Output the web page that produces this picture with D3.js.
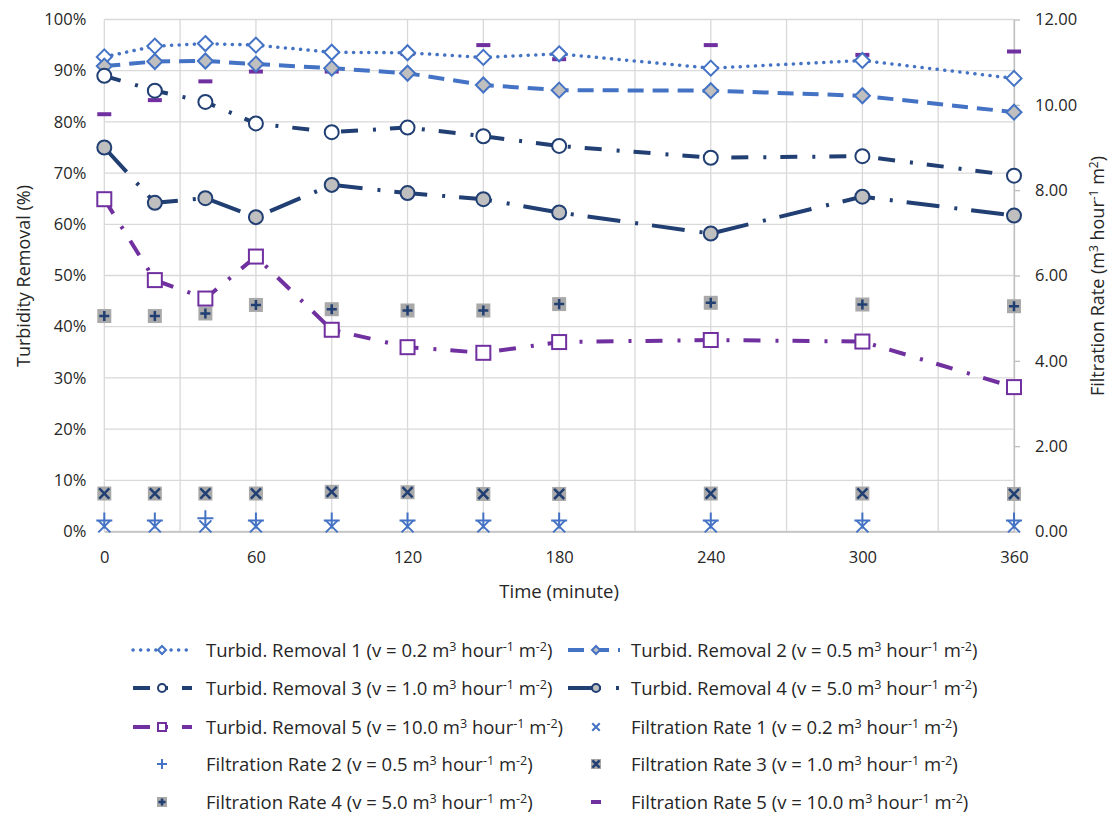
<!DOCTYPE html>
<html>
<head>
<meta charset="utf-8">
<script src="https://cdn.jsdelivr.net/npm/d3@7"></script>
<style>
  body { margin: 0; background: #fff; }
  text { font-family: "Open Sans", sans-serif; fill: #262626; }
</style>
</head>
<body>
<svg id="chart" width="1111" height="817"></svg>
<script>
// **** data ****
var times = [0, 20, 40, 60, 90, 120, 150, 180, 240, 300, 360];

var removal1 = [92.7, 94.8, 95.3, 95.0, 93.6, 93.5, 92.6, 93.3, 90.5, 92.0, 88.5];
var removal2 = [90.9, 91.8, 91.9, 91.3, 90.5, 89.5, 87.2, 86.2, 86.1, 85.1, 81.9];
var removal3 = [89.0, 86.1, 83.9, 79.7, 78.0, 78.9, 77.2, 75.3, 73.0, 73.3, 69.5];
var removal4 = [75.0, 64.2, 65.1, 61.4, 67.7, 66.1, 64.9, 62.3, 58.2, 65.4, 61.7];
var removal5 = [64.9, 49.1, 45.5, 53.7, 39.4, 36.0, 34.9, 37.0, 37.4, 37.1, 28.2];

var rate1 = [0.12, 0.12, 0.12, 0.12, 0.12, 0.12, 0.12, 0.12, 0.12, 0.12, 0.12];
var rate2 = [0.26, 0.26, 0.31, 0.26, 0.26, 0.26, 0.26, 0.26, 0.26, 0.26, 0.26];
var rate3 = [0.89, 0.89, 0.89, 0.89, 0.93, 0.92, 0.88, 0.88, 0.89, 0.89, 0.88];
var rate4 = [5.05, 5.05, 5.11, 5.31, 5.21, 5.18, 5.18, 5.33, 5.36, 5.32, 5.28];
var rate5 = [9.78, 10.11, 10.55, 10.78, 10.78, 11.19, 11.40, 11.07, 11.40, 11.17, 11.25];

var leftTicks = [0, 10, 20, 30, 40, 50, 60, 70, 80, 90, 100];
var rightTicks = [0, 2, 4, 6, 8, 10, 12];
var timeTicks = [0, 60, 120, 180, 240, 300, 360];
var gridTimes = [0, 30, 60, 90, 120, 150, 180, 210, 240, 270, 300, 330, 360];

var BLUE = '#4472c4', NAVY = '#213f73', PURPLE = '#7030a0', GRAY = '#bfbfbf', BOXGRAY = '#a9a9a9';

function unitLabel(prefix) {
    return [[prefix + ' m'], ['3', 1], [' hour'], ['-1', 1], [' m'], ['-2', 1], [')']];
}

// series table built from the arrays above
var lineSeries = [
    { values: removal1, color: BLUE, dash: '0.1 7.5', cap: 'round', width: 3.5, marker: 'diamond', fill: '#fff',
      label: unitLabel('Turbid. Removal 1 (v = 0.2') },
    { values: removal2, color: BLUE, dash: '16 9', cap: 'butt', width: 4, marker: 'diamond', fill: GRAY,
      label: unitLabel('Turbid. Removal 2 (v = 0.5') },
    { values: removal3, color: NAVY, dash: '17 15 3 14', cap: 'butt', width: 4, marker: 'circle', fill: '#fff',
      label: unitLabel('Turbid. Removal 3 (v = 1.0') },
    { values: removal4, color: NAVY, dash: '33 15 3 14', cap: 'butt', width: 4, marker: 'circle', fill: GRAY,
      label: unitLabel('Turbid. Removal 4 (v = 5.0') },
    { values: removal5, color: PURPLE, dash: '17 15 3 14', cap: 'butt', width: 4, marker: 'square', fill: '#fff',
      label: unitLabel('Turbid. Removal 5 (v = 10.0') }
];

var pointSeries = [
    { values: rate1, marker: 'cross', label: unitLabel('Filtration Rate 1 (v = 0.2') },
    { values: rate2, marker: 'plus', label: unitLabel('Filtration Rate 2 (v = 0.5') },
    { values: rate3, marker: 'boxcross', label: unitLabel('Filtration Rate 3 (v = 1.0') },
    { values: rate4, marker: 'boxplus', label: unitLabel('Filtration Rate 4 (v = 5.0') },
    { values: rate5, marker: 'bar', label: unitLabel('Filtration Rate 5 (v = 10.0') }
];

// **** scales ****
var xScale = d3.scaleLinear().domain([0, 360]).range([104.3, 1014]);
var yLeft = d3.scaleLinear().domain([0, 100]).range([531.5, 19.5]);
var yRight = d3.scaleLinear().domain([0, 12]).range([531.5, 19.5]);

var svg = d3.select('#chart');

// text with superscripts; parts flagged 1 are raised
function richText(sel, parts, supSize) {
    var shift = 0;
    parts.forEach(function (p) {
        var want = p[1] ? -6 : 0;
        var ts = sel.append('tspan').attr('dy', want - shift).text(p[0]);
        if (p[1]) ts.style('font-size', supSize);
        shift = want;
    });
}

// gridlines
svg.append('g').selectAll('line').data(leftTicks).enter().append('line')
    .attr('x1', xScale(0)).attr('x2', xScale(360))
    .attr('y1', function (d) { return yLeft(d); }).attr('y2', function (d) { return yLeft(d); })
    .style('stroke', '#d9d9d9').style('stroke-width', 1.3);
svg.append('g').selectAll('line').data(gridTimes).enter().append('line')
    .attr('x1', function (d) { return xScale(d); }).attr('x2', function (d) { return xScale(d); })
    .attr('y1', yLeft(0)).attr('y2', yLeft(100))
    .style('stroke', '#d9d9d9').style('stroke-width', 1.3);

// axes
var leftAxis = svg.append('g').attr('transform', 'translate(' + xScale(0) + ',0)')
    .call(d3.axisLeft(yLeft).tickValues(leftTicks).tickFormat(function (d) { return d + '%'; })
        .tickSize(0).tickPadding(18));
leftAxis.select('.domain').remove();

var rightAxis = svg.append('g').attr('transform', 'translate(' + xScale(360) + ',0)')
    .call(d3.axisRight(yRight).tickValues(rightTicks).tickFormat(d3.format('.2f'))
        .tickSizeInner(6).tickSizeOuter(0).tickPadding(15));
rightAxis.select('.domain').style('stroke', '#bfbfbf').style('stroke-width', 1.3);
rightAxis.selectAll('.tick line').style('stroke', '#bfbfbf').style('stroke-width', 1.3);

var bottomAxis = svg.append('g').attr('transform', 'translate(0,' + yLeft(0) + ')')
    .call(d3.axisBottom(xScale).tickValues(timeTicks).tickSize(0).tickPadding(20));
bottomAxis.select('.domain').style('stroke', '#bfbfbf').style('stroke-width', 1.3);

svg.selectAll('.tick text').style('font-family', '"Open Sans", sans-serif')
    .style('font-size', '16.5px').style('fill', '#262626');

// axis titles
svg.append('text').attr('transform', 'translate(30,276) rotate(-90)')
    .attr('text-anchor', 'middle').style('font-size', '18px').text('Turbidity Removal (%)');

var rt = svg.append('text').attr('transform', 'translate(1104,276) rotate(-90)')
    .attr('text-anchor', 'middle').style('font-size', '18px');
richText(rt, [['Filtration Rate (m'], ['3', 1], [' hour'], ['-1', 1], [' m'], ['2', 1], [')']], '12px');

svg.append('text').attr('x', (xScale(0) + xScale(360)) / 2).attr('y', 598)
    .attr('text-anchor', 'middle').style('font-size', '18.5px').text('Time (minute)');

// **** markers ****
function drawMarker(g, type, s, color, fill) {
    if (type === 'diamond') {
        g.append('path').attr('d', 'M0,' + (-s) + 'L' + s + ',0L0,' + s + 'L' + (-s) + ',0Z')
            .style('fill', fill).style('stroke', color).style('stroke-width', 2);
    } else if (type === 'circle') {
        g.append('circle').attr('r', s).style('fill', fill).style('stroke', color).style('stroke-width', 2);
    } else if (type === 'square') {
        g.append('rect').attr('x', -s).attr('y', -s).attr('width', 2 * s).attr('height', 2 * s)
            .style('fill', fill).style('stroke', color).style('stroke-width', 2);
    } else if (type === 'cross' || type === 'plus') {
        var c = type === 'cross' ? s * 0.75 : s;
        var p = type === 'cross'
            ? 'M' + (-c) + ',' + (-c) + 'L' + c + ',' + c + 'M' + (-c) + ',' + c + 'L' + c + ',' + (-c)
            : 'M' + (-c) + ',0L' + c + ',0M0,' + (-c) + 'L0,' + c;
        g.append('path').attr('d', p).style('stroke', BLUE).style('stroke-width', 2).style('fill', 'none');
    } else if (type === 'boxcross' || type === 'boxplus') {
        g.append('rect').attr('x', -s).attr('y', -s).attr('width', 2 * s).attr('height', 2 * s).style('fill', BOXGRAY);
        var k = s * 0.72;
        var q = type === 'boxcross'
            ? 'M' + (-k) + ',' + (-k) + 'L' + k + ',' + k + 'M' + (-k) + ',' + k + 'L' + k + ',' + (-k)
            : 'M' + (-k) + ',0L' + k + ',0M0,' + (-k) + 'L0,' + k;
        g.append('path').attr('d', q).style('stroke', NAVY).style('stroke-width', 2.5).style('fill', 'none');
    } else if (type === 'bar') {
        g.append('rect').attr('x', -s).attr('y', -2).attr('width', 2 * s).attr('height', 4).style('fill', PURPLE);
    }
}

// **** lines ****
lineSeries.forEach(function (sr) {
    var line = d3.line()
        .x(function (d, i) { return xScale(times[i]); })
        .y(function (d) { return yLeft(d); });
    svg.append('path').datum(sr.values).attr('d', line)
        .style('fill', 'none').style('stroke', sr.color).style('stroke-width', sr.width)
        .style('stroke-dasharray', sr.dash).style('stroke-linecap', sr.cap);
});

// filtration rate points
pointSeries.forEach(function (sr) {
    sr.values.forEach(function (v, i) {
        var g = svg.append('g').attr('transform', 'translate(' + xScale(times[i]) + ',' + yRight(v) + ')');
        var sz = sr.marker === 'bar' ? 7 : (sr.marker === 'cross' || sr.marker === 'plus') ? 8 : 7;
        drawMarker(g, sr.marker, sz);
    });
});

lineSeries.forEach(function (sr) {
    sr.values.forEach(function (v, i) {
        var g = svg.append('g').attr('transform', 'translate(' + xScale(times[i]) + ',' + yLeft(v) + ')');
        drawMarker(g, sr.marker, sr.marker === 'diamond' ? 7.5 : 7, sr.color, sr.fill);
    });
});

// **** legend ****
var legendRows = [650, 688, 727, 764, 802];
var cols = [
    { x1: 133, x2: 192, mx: 162, tx: 206, items: [['l', 0], ['l', 2], ['l', 4], ['p', 1], ['p', 3]] },
    { x1: 568, x2: 620, mx: 596, tx: 631, items: [['l', 1], ['l', 3], ['p', 0], ['p', 2], ['p', 4]] }
];

cols.forEach(function (col) {
    col.items.forEach(function (it, r) {
        var y = legendRows[r];
        var sr = it[0] === 'l' ? lineSeries[it[1]] : pointSeries[it[1]];
        if (it[0] === 'l') {
            svg.append('line').attr('x1', col.x1).attr('x2', col.x2).attr('y1', y).attr('y2', y)
                .style('stroke', sr.color).style('stroke-width', sr.width)
                .style('stroke-dasharray', sr.dash).style('stroke-linecap', sr.cap);
            var g = svg.append('g').attr('transform', 'translate(' + col.mx + ',' + y + ')');
            drawMarker(g, sr.marker, 4, sr.color, sr.fill);
        } else {
            var g2 = svg.append('g').attr('transform', 'translate(' + col.mx + ',' + y + ')');
            drawMarker(g2, sr.marker, 5);
        }
        var t = svg.append('text').attr('x', col.tx).attr('y', y + 6.5).style('font-size', '18.5px');
        richText(t, sr.label, '12.5px');
    });
});
</script>
</body>
</html>
